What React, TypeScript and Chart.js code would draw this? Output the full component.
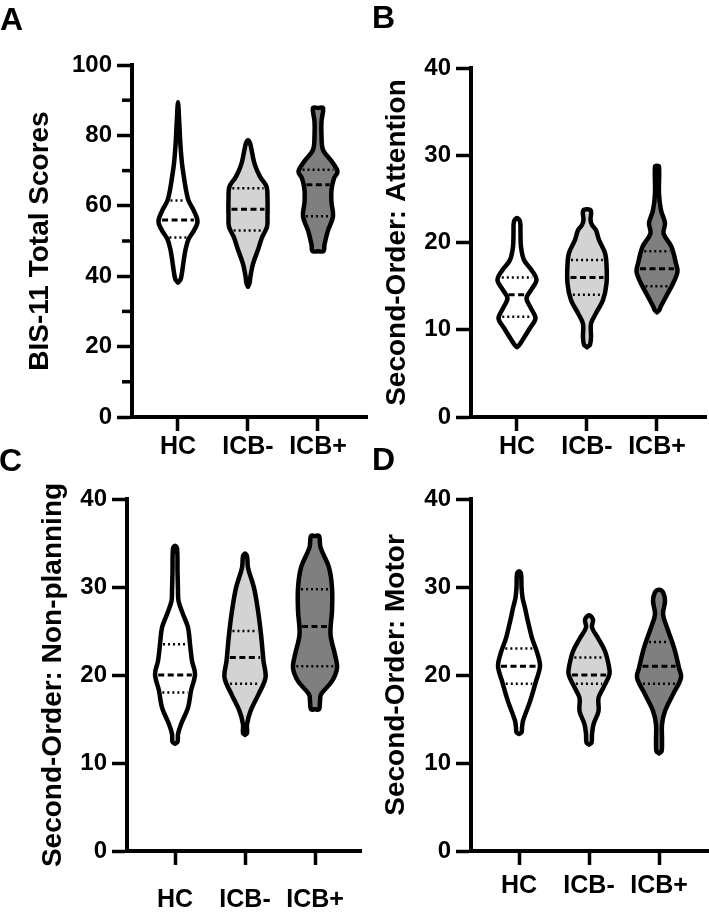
import React, { useEffect, useRef } from "react";
import { Chart, registerables } from "chart.js";

Chart.register(...registerables);

const categories = ["HC", "ICB-", "ICB+"];
const groupFills = ["#ffffff", "#d3d3d3", "#7f7f7f"];

// Violin outlines: [score, density half-width] from bottom to top
// Panel A – BIS-11 Total Scores
const bisHC = [[38.2, 0], [39, 2.5], [41, 4], [44, 5.5], [47.5, 7.5], [50.5, 10.5], [53, 16], [55.5, 19.5], [58.5, 16], [61.5, 10.5], [64.5, 8], [68, 6], [72, 4], [77, 2.5], [84, 1.2], [89.4, 0]];
const bisICBneg = [[37, 0], [38, 1.5], [40, 2.5], [43.5, 5], [47.5, 10], [51, 14], [54, 19], [57, 19.5], [62, 19.5], [65.5, 18.5], [68.3, 12], [72, 6.5], [76, 3.5], [77.8, 2], [78.6, 0]];
const bisICBpos = [[47.1, 0], [47.1, 5.5], [49, 6.5], [53, 10], [57, 15], [61, 13.5], [64.5, 13.5], [67.8, 16], [69.7, 19.5], [72.5, 14], [75.9, 5], [80, 3.5], [84, 3.5], [87.8, 5], [87.8, 0]];
const bisQuartiles = [[51, 56, 61.5], [53, 59, 65], [57, 66, 70.25]];
const bisMinorTicks = [10, 30, 50, 70, 90];

// Panel B – Second-Order: Attention
const attHC = [[8.0, 0], [8.3, 2.5], [9.0, 6.5], [10.2, 13], [11.3, 18.5], [12.45, 14], [13.6, 9.5], [14.55, 14], [15.7, 19.5], [16.85, 14.5], [18, 7], [19.5, 4], [21, 3.5], [22.4, 3], [22.8, 0]];
const attICBneg = [[8.0, 0], [8.3, 3], [9.2, 4], [10.7, 4], [11.9, 9], [13.4, 16], [15.3, 19.5], [17.5, 19.5], [18.8, 18], [20.3, 12], [21.4, 9], [22.0, 5], [22.6, 3.5], [23.6, 4], [23.8, 0]];
const attICBpos = [[12.0, 0], [12.3, 2.5], [12.6, 3.5], [13.8, 9], [15.3, 16], [16.65, 20.5], [17.6, 19], [19.5, 14.5], [21.05, 6.5], [22.2, 8], [23.7, 4], [25.6, 2], [28.7, 2], [28.8, 0]];
const attQuartiles = [[11.5, 14, 16], [14, 16, 18], [15, 17, 19]];

// Panel C – Second-Order: Non-planning
const nplHC = [[12.2, 0], [12.4, 2.5], [13.3, 3], [14.4, 6], [16.3, 13], [18.2, 16], [20.1, 20], [21.6, 17], [23.5, 15], [25.4, 13], [26.9, 8], [28.4, 3.5], [29.5, 3], [31.8, 2.5], [34.4, 2], [34.7, 0]];
const nplICBneg = [[13.2, 0], [13.4, 2], [14.4, 2], [15.9, 5.5], [17.8, 13.5], [19.7, 20.5], [21.6, 18.5], [24.6, 16], [27.3, 13], [29.9, 9], [32.2, 3], [33.5, 2], [33.8, 0]];
const nplICBpos = [[16.1, 0], [16.1, 4], [17.0, 5], [17.8, 6], [19.3, 17], [20.8, 22], [22.3, 20], [24.6, 15.5], [27.3, 17], [29.9, 17], [32.2, 14], [34.5, 5.5], [35.8, 4], [35.8, 0]];
const nplQuartiles = [[18, 20, 23.5], [19, 22, 25], [21, 25.5, 29.75]];

// Panel D – Second-Order: Motor
const motHC = [[13.3, 0], [13.5, 2.5], [14.0, 3], [14.8, 4], [17.0, 11], [19.3, 17], [21.0, 21], [22.4, 18.5], [24.2, 13], [25.8, 9.5], [27.6, 6], [28.8, 3.5], [30, 2.5], [31.5, 2], [31.8, 0]];
const motICBneg = [[12.1, 0], [12.3, 2.5], [13.3, 3], [14.4, 4.5], [15.9, 9.5], [17.4, 9.5], [18.6, 14.5], [20.1, 20.5], [21.2, 19.5], [22.7, 16], [24.2, 9], [25.4, 3], [26.3, 4], [26.8, 0]];
const motICBpos = [[11.1, 0], [11.3, 2.5], [12.5, 3], [14.4, 3], [15.9, 6], [17.8, 14], [19.7, 22], [20.8, 20], [23.1, 15], [25.4, 8], [26.9, 4], [28.4, 6], [29.4, 4], [29.7, 0]];
const motQuartiles = [[19, 21, 23], [19, 20, 22], [19, 21, 23.75]];

const yTicks40 = { max: 40, step: 10 };
const yTicks100 = { max: 100, step: 20 };

const DENSITY_PER_CATEGORY = 70;
const FONT = '"Liberation Sans", Arial, Helvetica, sans-serif';

function widthAt(profile: number[][], v: number): number {
  let best = 0;
  for (let k = 0; k < profile.length - 1; k++) {
    const [v0, w0] = profile[k];
    const [v1, w1] = profile[k + 1];
    if (v >= v0 && v <= v1 && v1 > v0) {
      best = w0 + ((w1 - w0) * (v - v0)) / (v1 - v0);
      break;
    }
  }
  return best;
}

function buildDatasets(profiles: number[][][], quartiles: number[][]) {
  const ds: any[] = [];
  profiles.forEach((prof, i) => {
    const right = prof.map(([v, w]) => ({ x: i + w / DENSITY_PER_CATEGORY, y: v }));
    const left = prof
      .slice()
      .reverse()
      .map(([v, w]) => ({ x: i - w / DENSITY_PER_CATEGORY, y: v }));
    const pts: { x: number; y: number }[] = [];
    [...right, ...left].forEach((p) => {
      const last = pts[pts.length - 1];
      if (!last || last.x !== p.x || last.y !== p.y) pts.push(p);
    });
    ds.push({
      data: pts,
      showLine: true,
      fill: "shape",
      backgroundColor: groupFills[i],
      borderColor: "#000",
      borderWidth: 4.5,
      tension: 0.35,
      pointRadius: 0,
      borderJoinStyle: "round",
      borderCapStyle: "round",
      order: 0,
    });
    quartiles[i].forEach((q, k) => {
      const hw = Math.max(widthAt(prof, q) - 3, 1) / DENSITY_PER_CATEGORY;
      const median = k === 1;
      ds.push({
        data: [
          { x: i - hw, y: q },
          { x: i + hw, y: q },
        ],
        showLine: true,
        fill: false,
        borderColor: "#000",
        borderWidth: median ? 3 : 2.5,
        borderDash: median ? [6, 3.5] : [2, 3],
        borderCapStyle: "butt",
        pointRadius: 0,
        tension: 0,
        order: 1,
      });
    });
  });
  return ds;
}

const minorTicksPlugin = {
  id: "minorTicks",
  afterDraw(chart: any, _args: any, opts: any) {
    if (!opts || !opts.values || !opts.values.length) return;
    const y = chart.scales.y;
    const ctx = chart.ctx;
    ctx.save();
    ctx.strokeStyle = "#000";
    ctx.lineWidth = 3.5;
    opts.values.forEach((v: number) => {
      const py = y.getPixelForValue(v);
      ctx.beginPath();
      ctx.moveTo(y.right - opts.length, py);
      ctx.lineTo(y.right, py);
      ctx.stroke();
    });
    ctx.restore();
  },
};

type PanelCfg = {
  left: number;
  top: number;
  w: number;
  h: number;
  pad: { top: number; right: number };
  yWidth: number;
  xHeight: number;
  xMin: number;
  xMax: number;
  yRange: { max: number; step: number };
  title: string;
  titlePad: number;
  xLabelPad: number;
  profiles: number[][][];
  quartiles: number[][];
  minor?: number[];
};

const panels: PanelCfg[] = [
  {
    left: 0, top: 0, w: 372, h: 461, pad: { top: 65, right: 5 }, yWidth: 132, xHeight: 44,
    xMin: -0.657, xMax: 2.7, yRange: yTicks100, title: "BIS-11 Total Scores", titlePad: 23,
    xLabelPad: 1, profiles: [bisHC, bisICBneg, bisICBpos], quartiles: bisQuartiles, minor: bisMinorTicks,
  },
  {
    left: 360, top: 0, w: 349, h: 461, pad: { top: 68, right: 3 }, yWidth: 111, xHeight: 44,
    xMin: -0.657, xMax: 2.7, yRange: yTicks40, title: "Second-Order: Attention", titlePad: 20,
    xLabelPad: 1, profiles: [attHC, attICBneg, attICBpos], quartiles: attQuartiles,
  },
  {
    left: 0, top: 461, w: 366, h: 461, pad: { top: 38, right: 5 }, yWidth: 127, xHeight: 71,
    xMin: -0.686, xMax: 2.657, yRange: yTicks40, title: "Second-Order: Non-planning", titlePad: 36,
    xLabelPad: 20, profiles: [nplHC, nplICBneg, nplICBpos], quartiles: nplQuartiles,
  },
  {
    left: 360, top: 461, w: 349, h: 461, pad: { top: 38, right: 0 }, yWidth: 111, xHeight: 71,
    xMin: -0.686, xMax: 2.714, yRange: yTicks40, title: "Second-Order: Motor", titlePad: 19,
    xLabelPad: 6, profiles: [motHC, motICBneg, motICBpos], quartiles: motQuartiles,
  },
];

const panelLetters = [
  { text: "A", left: 0, top: 3 },
  { text: "B", left: 372, top: 1 },
  { text: "C", left: -1, top: 444 },
  { text: "D", left: 372, top: 443 },
];

function ViolinPanel({ cfg }: { cfg: PanelCfg }) {
  const ref = useRef<HTMLCanvasElement | null>(null);
  useEffect(() => {
    if (!ref.current) return;
    const tickFont = { family: FONT, weight: "bold" as const, size: 24 };
    const chart = new Chart(ref.current, {
      type: "scatter",
      data: { datasets: buildDatasets(cfg.profiles, cfg.quartiles) },
      plugins: [minorTicksPlugin],
      options: {
        animation: false,
        responsive: false,
        devicePixelRatio: 1,
        events: [],
        layout: { padding: { top: cfg.pad.top, right: cfg.pad.right, left: 0, bottom: 0 } },
        plugins: {
          legend: { display: false },
          tooltip: { enabled: false },
          filler: { drawTime: "beforeDatasetsDraw", propagate: false },
          minorTicks: { values: cfg.minor || [], length: 10 },
        } as any,
        scales: {
          x: {
            type: "linear",
            position: "bottom",
            min: cfg.xMin,
            max: cfg.xMax,
            afterBuildTicks: (s: any) => {
              s.ticks = categories.map((_, i) => ({ value: i }));
            },
            afterFit: (s: any) => {
              s.height = cfg.xHeight;
            },
            ticks: {
              callback: (v: any) => categories[Math.round(Number(v))],
              color: "#000",
              font: { family: FONT, weight: "bold" as const, size: 25 },
              padding: cfg.xLabelPad,
              autoSkip: false,
              maxRotation: 0,
            },
            grid: { display: true, drawOnChartArea: false, drawTicks: true, tickLength: 14, tickWidth: 3.5, tickColor: "#000" },
            border: { display: true, width: 4, color: "#000" },
          },
          y: {
            type: "linear",
            position: "left",
            min: 0,
            max: cfg.yRange.max,
            afterFit: (s: any) => {
              s.width = cfg.yWidth;
            },
            ticks: { stepSize: cfg.yRange.step, color: "#000", font: tickFont, padding: 5 },
            grid: { display: true, drawOnChartArea: false, drawTicks: true, tickLength: 15, tickWidth: 3.5, tickColor: "#000" },
            border: { display: true, width: 4, color: "#000" },
            title: {
              display: true,
              text: cfg.title,
              color: "#000",
              font: { family: FONT, weight: "bold" as const, size: 28, lineHeight: 1.2 },
              padding: { top: cfg.titlePad, bottom: 0 },
            },
          },
        },
      } as any,
    });
    return () => chart.destroy();
  }, []);
  return (
    <canvas
      ref={ref}
      width={cfg.w}
      height={cfg.h}
      style={{ position: "absolute", left: cfg.left, top: cfg.top, width: cfg.w, height: cfg.h }}
    />
  );
}

export default function App() {
  return (
    <div style={{ position: "absolute", left: 0, top: 0, width: 709, height: 922, background: "#fff", overflow: "hidden" }}>
      {panels.map((p, i) => (
        <ViolinPanel key={i} cfg={p} />
      ))}
      {panelLetters.map((l) => (
        <div
          key={l.text}
          style={{
            position: "absolute",
            left: l.left,
            top: l.top,
            fontFamily: FONT,
            fontWeight: "bold",
            fontSize: 32,
            lineHeight: "32px",
            color: "#000",
          }}
        >
          {l.text}
        </div>
      ))}
    </div>
  );
}
